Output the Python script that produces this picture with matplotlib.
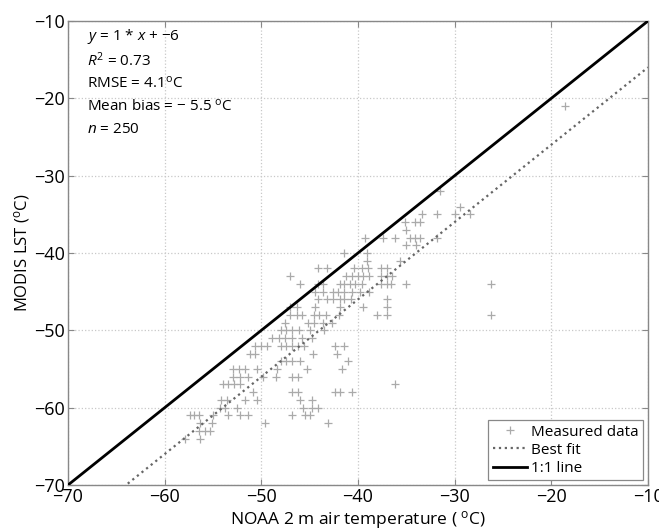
import numpy as np
import matplotlib
matplotlib.use('Agg')
import matplotlib.pyplot as plt

plt.rcParams['font.family'] = ['Open Sans', 'DejaVu Sans']
plt.rcParams['mathtext.fontset'] = 'custom'
plt.rcParams['mathtext.rm'] = 'Open Sans'
plt.rcParams['mathtext.it'] = 'Open Sans:italic'

# NOAA air temperature (x) and MODIS LST (y)
air_temp = [
    -18.6, -31.5, -29.4,
    -33.4, -31.8, -30.0, -28.4,
    -35.1, -34.1, -33.6, -35.0,
    -39.3, -37.4, -36.2, -34.6, -34.1, -33.6, -31.8,
    -35.0, -34.0,
    -41.4, -39.1,
    -39.1, -35.7,
    -44.1, -43.2, -40.4, -39.6, -39.0, -37.6, -37.0,
    -47.0, -41.2, -40.6, -40.0, -39.5, -38.9, -37.6, -37.0, -36.5,
    -46.0, -44.1, -43.6, -41.9, -41.4, -40.8, -40.3, -39.6, -37.6, -37.0, -36.6, -35.0, -26.2,
    -44.4, -43.6, -42.6, -42.1, -41.4, -40.6, -39.8, -38.9,
    -44.1, -43.2, -42.6, -41.9, -41.4, -40.7, -37.0,
    -47.0, -46.3, -44.4, -41.9, -39.5, -37.0,
    -47.0, -46.3, -45.8, -44.6, -44.0, -43.3, -42.0, -38.0, -37.0, -26.2,
    -47.6, -45.2, -44.6, -43.6, -42.7,
    -48.0, -47.4, -46.8, -46.1, -45.0, -43.5,
    -48.9, -48.2, -47.6, -46.8, -45.8, -44.8,
    -50.7, -50.0, -49.4, -48.0, -47.4, -46.8, -46.2, -45.6, -42.4, -41.4,
    -51.2, -50.7, -44.7, -42.2,
    -48.0, -47.4, -46.8, -46.0, -41.0,
    -52.9, -52.3, -51.7, -50.5, -48.4, -45.3, -41.7,
    -52.9, -52.2, -51.4, -49.8, -48.5, -46.8, -46.2,
    -54.0, -53.4, -52.8, -52.2, -36.2,
    -50.9, -46.8, -46.2, -42.4, -41.9, -40.6,
    -54.2, -53.6, -51.7, -50.5, -46.0, -44.8,
    -54.3, -53.8, -52.5, -45.7, -44.8, -44.1,
    -57.4, -57.0, -56.5, -55.0, -53.4, -52.2, -51.4, -46.8, -45.5, -45.0,
    -56.3, -55.1, -49.6, -43.1,
    -56.5, -55.8, -55.3,
    -57.9, -56.3,
]
lst = [
    -21, -32, -34,
    -35, -35, -35, -35,
    -36, -36, -36, -37,
    -38, -38, -38, -38, -38, -38, -38,
    -39, -39,
    -40, -40,
    -41, -41,
    -42, -42, -42, -42, -42, -42, -42,
    -43, -43, -43, -43, -43, -43, -43, -43, -43,
    -44, -44, -44, -44, -44, -44, -44, -44, -44, -44, -44, -44, -44,
    -45, -45, -45, -45, -45, -45, -45, -45,
    -46, -46, -46, -46, -46, -46, -46,
    -47, -47, -47, -47, -47, -47,
    -48, -48, -48, -48, -48, -48, -48, -48, -48, -48,
    -49, -49, -49, -49, -49,
    -50, -50, -50, -50, -50, -50,
    -51, -51, -51, -51, -51, -51,
    -52, -52, -52, -52, -52, -52, -52, -52, -52, -52,
    -53, -53, -53, -53,
    -54, -54, -54, -54, -54,
    -55, -55, -55, -55, -55, -55, -55,
    -56, -56, -56, -56, -56, -56, -56,
    -57, -57, -57, -57, -57,
    -58, -58, -58, -58, -58, -58,
    -59, -59, -59, -59, -59, -59,
    -60, -60, -60, -60, -60, -60,
    -61, -61, -61, -61, -61, -61, -61, -61, -61, -61,
    -62, -62, -62, -62,
    -63, -63, -63,
    -64, -64,
]

slope = 1
intercept = -6
stats_lines = [
    r'$y$ = 1 * $x$ + $-$6',
    r'$R^2$ = 0.73',
    r'RMSE = 4.1$^\mathrm{o}$C',
    r'Mean bias = $-$ 5.5 $^\mathrm{o}$C',
    r'$n$ = 250',
]
ticks = [-70, -60, -50, -40, -30, -20, -10]

fig = plt.figure(figsize=(6.59, 5.31), dpi=100)
ax = fig.add_axes([0.1032, 0.0866, 0.8801, 0.8739])

line_x = np.array([-70, -10])
ax.plot(air_temp, lst, '+', color='#aaaaaa', markersize=6, mew=0.9,
        label='Measured data', zorder=3)
ax.plot(line_x, slope * line_x + intercept, ':', color='#666666', lw=1.6,
        label='Best fit', zorder=4)
ax.plot(line_x, line_x, '-', color='black', lw=2.0, label='1:1 line', zorder=5)

ax.set_xlim(-70, -10)
ax.set_ylim(-70, -10)
ax.set_xticks(ticks)
ax.set_yticks(ticks)
ax.set_xticklabels([str(t).replace('-', '\u2212') for t in ticks])
ax.set_yticklabels([str(t).replace('-', '\u2212') for t in ticks])
ax.tick_params(direction='in', top=True, right=True, length=4, width=0.8,
               color='#888888', labelsize=13, pad=2)
ax.grid(True, linestyle=':', color='#c8c8c8', lw=0.9)
for s in ax.spines.values():
    s.set_color('#888888')
    s.set_linewidth(1.0)

ax.set_xlabel(r'NOAA 2 m air temperature ( $^\mathrm{o}$C)', fontsize=12.5, labelpad=2)
ax.set_ylabel(r'MODIS LST ($^\mathrm{o}$C)', fontsize=12, labelpad=2)

for i, txt in enumerate(stats_lines):
    ax.text(0.033, 0.9655 - i * 0.0501, txt, transform=ax.transAxes,
            fontsize=11, va='center', ha='left')

leg = ax.legend(loc='lower right', fontsize=11, fancybox=False, framealpha=1,
                edgecolor='#888888', borderpad=0.3, labelspacing=0.2,
                handlelength=2.2, handletextpad=0.3, borderaxespad=0.3)
leg.get_frame().set_linewidth(0.9)

fig.savefig('out.png', dpi=100)
